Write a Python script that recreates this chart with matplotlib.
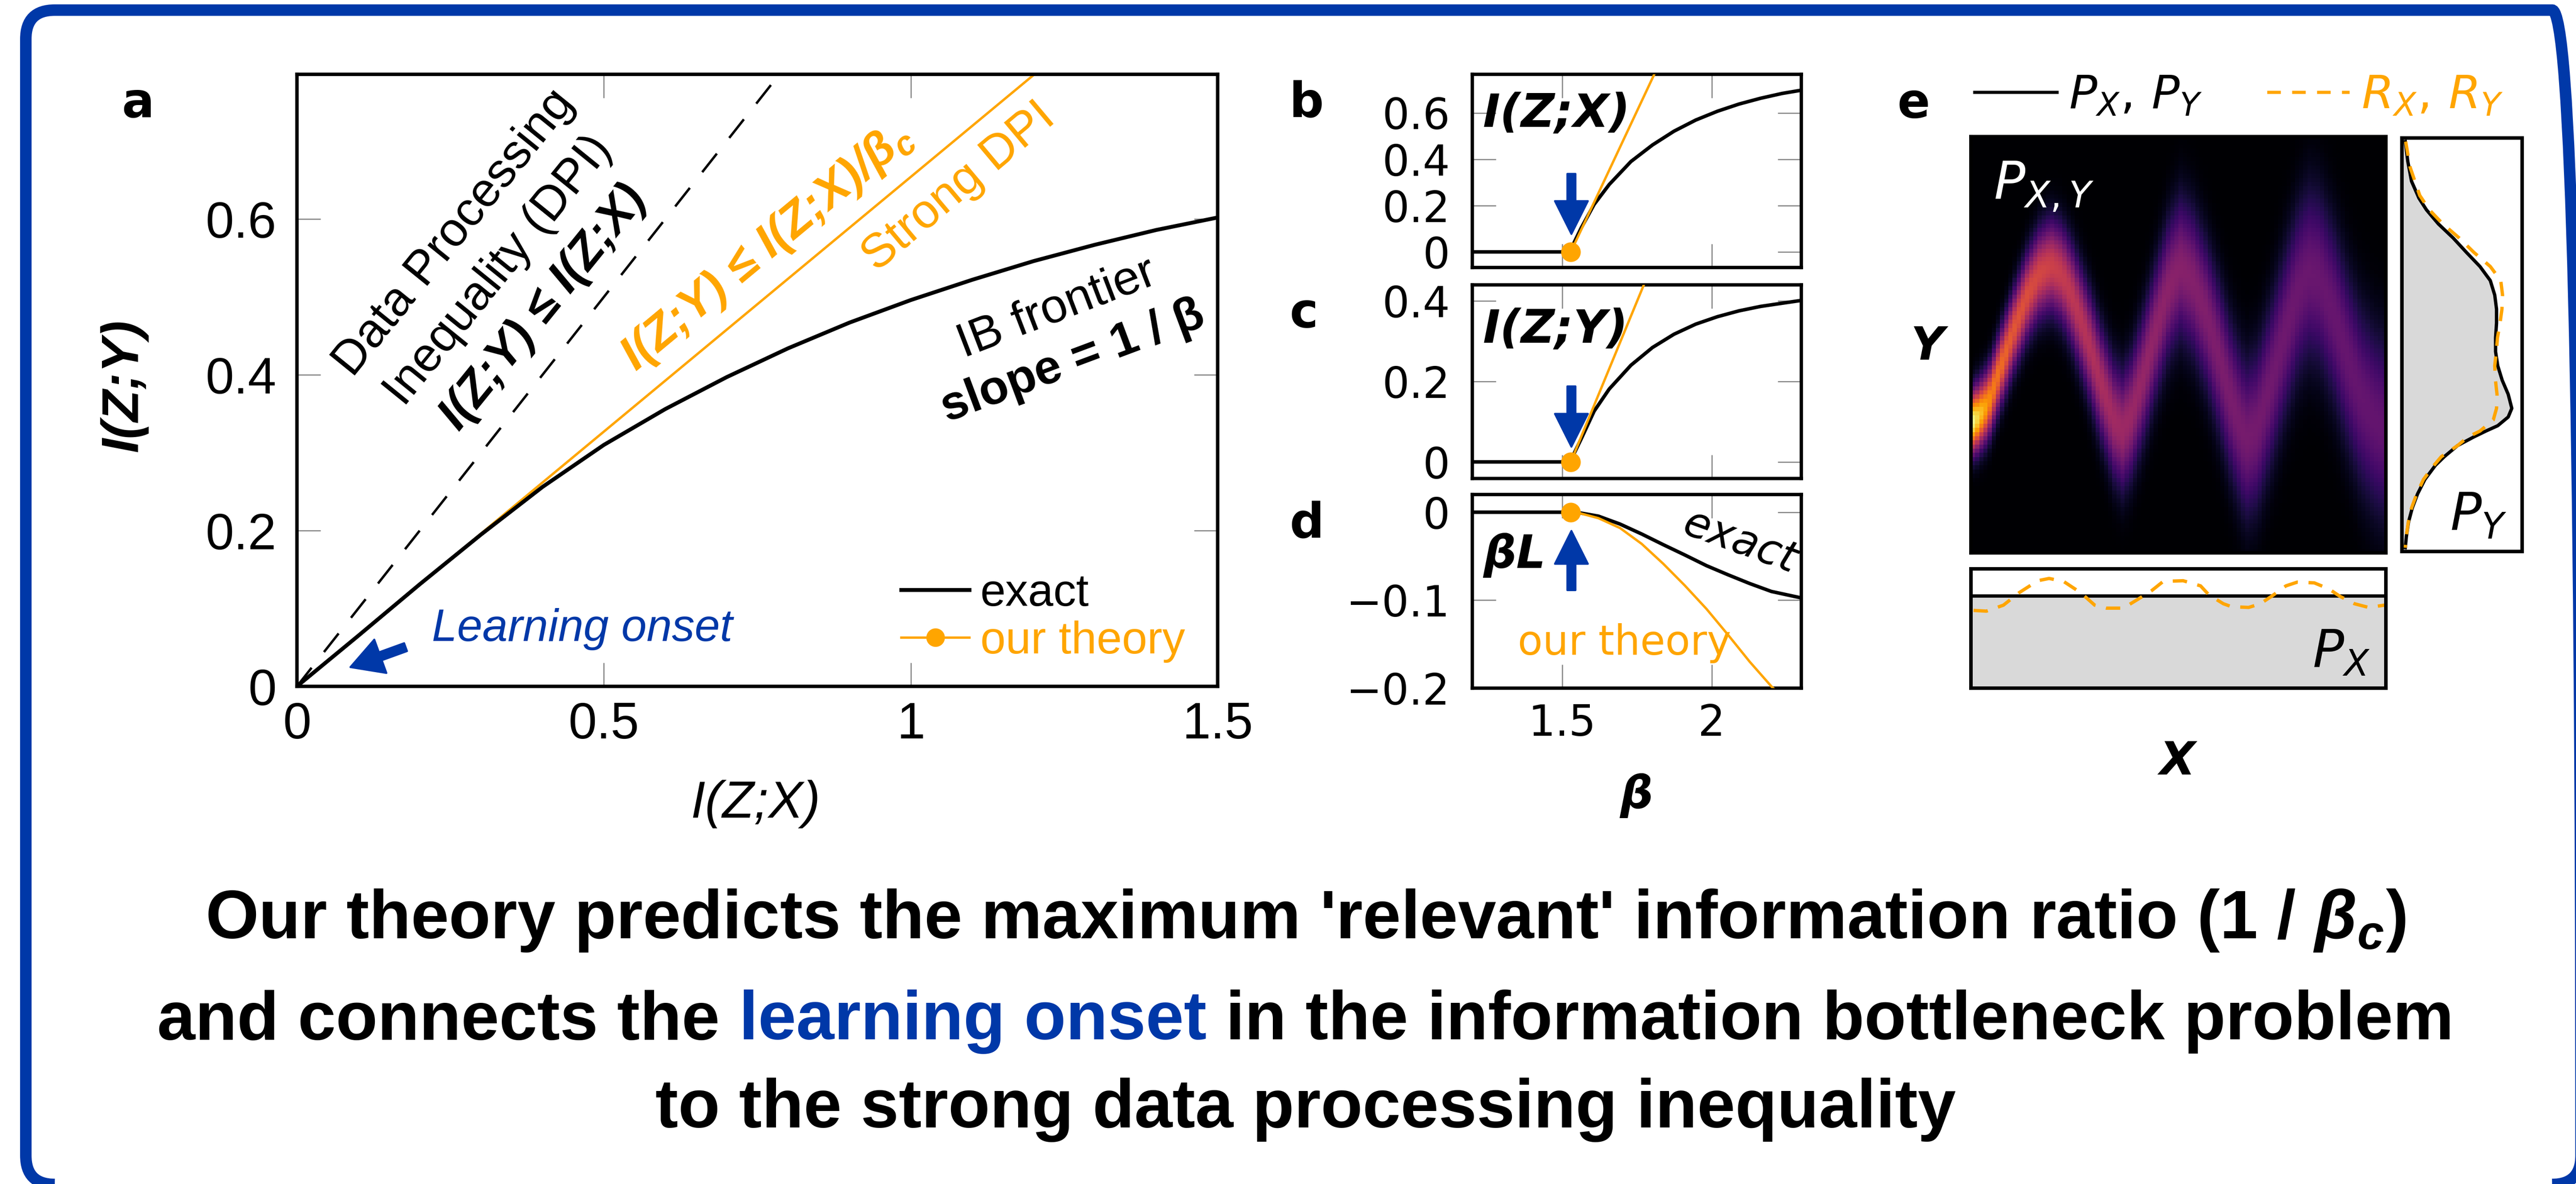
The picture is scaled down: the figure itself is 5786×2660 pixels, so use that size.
import numpy as np
import matplotlib
matplotlib.use('Agg')
import matplotlib.pyplot as plt
import matplotlib.transforms as mtransforms
from matplotlib.patches import FancyBboxPatch
from matplotlib.lines import Line2D

# ---------------- data ----------------
# panel a : information plane
dpi_x = [0.0, 0.79]
dpi_y = [0.0, 0.79]
sdpi_x = [0.0, 1.2]
sdpi_y = [0.0, 0.785]
ib_x = [0, 0.1, 0.2, 0.3, 0.4, 0.5, 0.6, 0.7, 0.8, 0.9, 1.0, 1.1, 1.2, 1.3, 1.4, 1.5]
ib_y = [0, 0.065, 0.131, 0.195, 0.256, 0.310, 0.356, 0.397, 0.434, 0.467, 0.496,
        0.522, 0.546, 0.567, 0.586, 0.602]
a_xticks = [0, 0.5, 1, 1.5]
a_xticklabels = ['0', '0.5', '1', '1.5']
a_yticks = [0, 0.2, 0.4, 0.6]
a_yticklabels = ['0', '0.2', '0.4', '0.6']
onset_x = [0.087]
onset_y = [0.0246]

# panels b-d : quantities vs beta
beta_c = 1.529
b_beta = [1.2, 1.529, 1.5347, 1.5636, 1.607, 1.6575, 1.730, 1.802, 1.874, 1.9465,
          2.019, 2.091, 2.163, 2.2355, 2.30]
b_exact = [0, 0, 0.026, 0.103, 0.205, 0.291, 0.390, 0.4615, 0.521, 0.569,
           0.607, 0.638, 0.663, 0.684, 0.698]
b_theory_beta = [1.529, 1.81]
b_theory = [0.0, 0.772]
c_beta = b_beta
c_exact = [0, 0, 0.0128, 0.057, 0.126, 0.181, 0.240, 0.284, 0.317, 0.342,
           0.3605, 0.375, 0.386, 0.394, 0.401]
c_theory_beta = [1.529, 1.775]
c_theory = [0.0, 0.443]
d_beta = [1.2, 1.529, 1.5564, 1.6214, 1.6936, 1.766, 1.838, 1.910, 1.9827, 2.055,
          2.127, 2.1994, 2.30]
d_exact = [0, 0, -0.0006, -0.0045, -0.0135, -0.0248, -0.0369, -0.0486, -0.0608,
           -0.0712, -0.0811, -0.0901, -0.0975]
d_theory_beta = [1.529, 1.5564, 1.6214, 1.6936, 1.766, 1.838, 1.910, 1.9827, 2.055,
                 2.127, 2.1994, 2.224]
d_theory = [0, -0.0009, -0.0068, -0.018, -0.036, -0.0586, -0.0833, -0.110, -0.1396,
            -0.170, -0.198, -0.206]
bcd_xticks = [1.5, 2]
bcd_xticklabels = ['1.5', '2']
b_yticks = [0, 0.2, 0.4, 0.6]
b_yticklabels = ['0', '0.2', '0.4', '0.6']
c_yticks = [0, 0.2, 0.4]
c_yticklabels = ['0', '0.2', '0.4']
d_yticks = [-0.2, -0.1, 0]
d_yticklabels = ['\u22120.2', '\u22120.1', '0']

# panel e : joint distribution (ridge line, width, peak height)
ridge_x = [0.009, 0.041, 0.073, 0.106, 0.138, 0.165, 0.192, 0.219, 0.246, 0.279,
           0.311, 0.344, 0.365, 0.387, 0.419, 0.451, 0.478, 0.505, 0.532, 0.565,
           0.597, 0.630, 0.662, 0.689, 0.721, 0.754, 0.786, 0.813, 0.840, 0.873,
           0.905, 0.937, 0.970, 0.997]
ridge_y = [0.316, 0.356, 0.449, 0.542, 0.623, 0.669, 0.690, 0.669, 0.611, 0.518,
           0.414, 0.321, 0.295, 0.333, 0.438, 0.553, 0.640, 0.684, 0.657, 0.577,
           0.472, 0.356, 0.272, 0.298, 0.402, 0.518, 0.623, 0.672, 0.657, 0.577,
           0.472, 0.379, 0.321, 0.298]
sig_x = [0.0, 0.2, 0.5, 0.8, 1.0]
sig_v = [0.05, 0.075, 0.112, 0.138, 0.148]
amp_x = [0.0, 0.02, 0.05, 0.1, 0.2, 0.35, 0.5, 0.65, 0.8, 1.0]
amp_v = [1.0, 0.88, 0.72, 0.62, 0.54, 0.43, 0.37, 0.33, 0.30, 0.28]

# marginal P_Y (black) and R_Y (orange): y position, density
py_y = [0.991, 0.943, 0.895, 0.854, 0.826, 0.792, 0.758, 0.723, 0.689, 0.655, 0.620,
        0.586, 0.552, 0.517, 0.483, 0.449, 0.414, 0.380, 0.346, 0.325, 0.304, 0.291,
        0.277, 0.256, 0.229, 0.208, 0.174, 0.139, 0.105, 0.071, 0.036, 0.009]
py_v = [0.027, 0.048, 0.079, 0.141, 0.203, 0.302, 0.425, 0.536, 0.648, 0.734, 0.771,
        0.786, 0.786, 0.778, 0.778, 0.796, 0.833, 0.883, 0.913, 0.883, 0.796, 0.697,
        0.598, 0.462, 0.351, 0.277, 0.190, 0.129, 0.085, 0.054, 0.036, 0.027]
ry_y = [0.991, 0.929, 0.861, 0.826, 0.792, 0.758, 0.723, 0.689, 0.655, 0.620, 0.586,
        0.552, 0.517, 0.483, 0.449, 0.414, 0.380, 0.346, 0.318, 0.291, 0.277, 0.256,
        0.229, 0.208, 0.174, 0.139, 0.105, 0.071, 0.036, 0.009]
ry_v = [0.030, 0.067, 0.147, 0.227, 0.339, 0.475, 0.598, 0.734, 0.821, 0.836, 0.831,
        0.815, 0.794, 0.784, 0.771, 0.777, 0.790, 0.786, 0.759, 0.648, 0.549, 0.462,
        0.326, 0.265, 0.178, 0.122, 0.079, 0.052, 0.035, 0.027]
# marginal P_X (black) and R_X (orange)
px_x = [0.0, 1.0]
px_v = [0.772, 0.772]
rx_x = [0.006, 0.037, 0.078, 0.116, 0.161, 0.188, 0.223, 0.264, 0.298, 0.326, 0.367,
        0.408, 0.436, 0.463, 0.511, 0.553, 0.573, 0.608, 0.628, 0.669, 0.697, 0.724,
        0.759, 0.786, 0.827, 0.862, 0.889, 0.924, 0.958, 0.996]
rx_v = [0.651, 0.645, 0.695, 0.800, 0.900, 0.919, 0.894, 0.800, 0.695, 0.670, 0.670,
        0.757, 0.819, 0.894, 0.900, 0.857, 0.782, 0.707, 0.682, 0.676, 0.707, 0.769,
        0.857, 0.888, 0.882, 0.832, 0.769, 0.707, 0.676, 0.695]

# ---------------- style ----------------
W, H = 5786, 2660
DPI = 300
ORANGE = '#FFA500'
BLUE = '#0038A8'
GRAY = '#808080'
FILLGRAY = '#d9d9d9'

plt.rcParams['font.family'] = ['Liberation Sans', 'DejaVu Sans']
plt.rcParams['mathtext.fontset'] = 'custom'
plt.rcParams['mathtext.rm'] = 'Liberation Sans:bold'
plt.rcParams['mathtext.it'] = 'Liberation Sans:italic:bold'
plt.rcParams['mathtext.bf'] = 'Liberation Sans:bold'

fig = plt.figure(figsize=((W + 0.3) / DPI, (H + 0.3) / DPI), dpi=DPI)
fig.patch.set_facecolor('white')


def rect(l, t, r, b):
    return [l / W, 1 - b / H, (r - l) / W, (b - t) / H]


def ftext(x, y, s, **kw):
    return fig.text(x / W, 1 - y / H, s, **kw)


# ---------------- border ----------------
tr = mtransforms.Affine2D().scale(1 / W, 1 / H) + fig.transFigure
border = FancyBboxPatch((58, -1), 5797 - 58, 2637 + 1,
                        boxstyle='round,pad=0,rounding_size=65',
                        transform=tr, fill=False, ec=BLUE, lw=6.2, zorder=10)
fig.add_artist(border)

# ---------------- panel a ----------------
axA = fig.add_axes(rect(667, 167, 2735, 1542))
axA.plot(dpi_x, dpi_y, color='k', lw=1.3, dashes=(9.8, 8.3))
axA.plot(sdpi_x, sdpi_y, color=ORANGE, lw=1.3)
axA.plot(ib_x, ib_y, color='k', lw=2.1)
axA.set_xlim(0, 1.5)
axA.set_ylim(0, 0.786)
axA.set_xticks(a_xticks)
axA.set_xticklabels(a_xticklabels)
axA.set_yticks(a_yticks)
axA.set_yticklabels(a_yticklabels)
axA.tick_params(direction='in', length=12.7, width=0.6, color=GRAY, top=True,
                right=True, labelsize=27.5)
axA.tick_params(axis='x', pad=8)
axA.tick_params(axis='y', pad=11)
for s in axA.spines.values():
    s.set_linewidth(1.85)

ftext(278, 866, 'I(Z;Y)', rotation=90, ha='center', va='center', fontsize=28,
      fontweight='bold', fontstyle='italic')
ftext(1697, 1806, 'I(Z;X)', ha='center', va='center', fontsize=28, fontstyle='italic')

txt_kw = dict(ha='center', va='center', rotation_mode='anchor', fontsize=26)
axA.text(0.2565, 0.582, 'Data Processing', rotation=51, **txt_kw)
axA.text(0.329, 0.534, 'Inequality (DPI)', rotation=51, **txt_kw)
axA.text(0.402, 0.486, 'I(Z;Y) \u2264 I(Z;X)', rotation=51, fontweight='bold',
         fontstyle='italic', **txt_kw)
axA.text(0.766, 0.565, 'I(Z;Y) \u2264 I(Z;X)/$\\beta_c$', rotation=39.7, color=ORANGE,
         fontweight='bold', fontstyle='italic', **txt_kw)
axA.text(1.078, 0.641, 'Strong DPI', rotation=40, color=ORANGE, **txt_kw)
axA.text(1.238, 0.485, 'IB frontier', rotation=21, **txt_kw)
axA.text(1.264, 0.4166, 'slope = 1 / \u03b2', rotation=20.5, fontweight='bold', **txt_kw)
axA.text(0.220, 0.0737, 'Learning onset', ha='left', va='center', fontsize=24.5,
         fontstyle='italic', color=BLUE)
axA.annotate('', xy=(onset_x[0], onset_y[0]), xytext=(0.177, 0.0503),
             arrowprops=dict(arrowstyle='simple,head_length=0.86,head_width=0.96,tail_width=0.23',
                             color=BLUE, shrinkA=0, shrinkB=0, mutation_scale=20))

hA1 = Line2D([], [], color='k', lw=2.1)
hA2 = Line2D([], [], color=ORANGE, lw=1.3, marker='o', ms=9)
legA = axA.legend([hA1, hA2], ['exact', 'our theory'], loc='center left',
                  bbox_to_anchor=((2024 - 667) / 2068, 1 - (1388 - 167) / 1375),
                  frameon=False, fontsize=24.5, handlelength=1.5, handletextpad=0.24,
                  labelspacing=0.12, borderpad=0, borderaxespad=0)
legA.get_texts()[1].set_color(ORANGE)

ftext(273, 263, 'a', ha='left', va='baseline', fontsize=26, fontweight='bold',
      family='DejaVu Sans')

# ---------------- panels b, c, d ----------------
panel_specs = [
    (rect(3307, 167, 4046, 601), b_beta, b_exact, b_theory_beta, b_theory,
     (-0.067, 0.767), b_yticks, b_yticklabels),
    (rect(3307, 640, 4046, 1075), c_beta, c_exact, c_theory_beta, c_theory,
     (-0.041, 0.4398), c_yticks, c_yticklabels),
    (rect(3307, 1111, 4046, 1546), d_beta, d_exact, d_theory_beta, d_theory,
     (-0.1995, 0.0202), d_yticks, d_yticklabels),
]
axes_bcd = []
for i, (r, xb, ye, xt, yt, ylim, yt_pos, yt_lab) in enumerate(panel_specs):
    ax = fig.add_axes(r)
    ax.plot(xb, ye, color='k', lw=1.9, zorder=3)
    ax.plot(xt, yt, color=ORANGE, lw=1.3, zorder=4)
    ax.plot([beta_c], [0], 'o', color=ORANGE, ms=9.6, zorder=5)
    ax.set_xlim(1.2, 2.3)
    ax.set_ylim(*ylim)
    ax.set_xticks(bcd_xticks)
    ax.set_yticks(yt_pos)
    ax.set_yticklabels(yt_lab)
    if i == 2:
        ax.set_xticklabels(bcd_xticklabels)
    else:
        ax.set_xticklabels([])
    ax.tick_params(direction='in', length=12.7, width=0.6, color=GRAY, top=True,
                   right=True, labelsize=23)
    ax.tick_params(axis='x', pad=8)
    ax.tick_params(axis='y', pad=12)
    for lab in ax.get_xticklabels() + ax.get_yticklabels():
        lab.set_family('DejaVu Sans')
    for s in ax.spines.values():
        s.set_linewidth(1.8)
    axes_bcd.append(ax)

axB, axC, axD = axes_bcd
arrow_kw = dict(arrowstyle='simple,head_length=0.89,head_width=0.89,tail_width=0.22',
                color=BLUE, shrinkA=0, shrinkB=0, mutation_scale=20)
axB.annotate('', xy=(1.531, 0.077), xytext=(1.531, 0.337), arrowprops=arrow_kw)
axC.annotate('', xy=(1.531, 0.0375), xytext=(1.531, 0.1877), arrowprops=arrow_kw)
axD.annotate('', xy=(1.531, -0.0212), xytext=(1.531, -0.0887), arrowprops=arrow_kw)

dj_bi = dict(family='DejaVu Sans', fontweight='bold', fontstyle='italic', fontsize=25)
ftext(3331, 256, 'I(Z;X)', ha='left', va='center', **dj_bi)
ftext(3331, 741, 'I(Z;Y)', ha='left', va='center', **dj_bi)
ftext(3331, 1247, '\u03b2L', ha='left', va='center', **dj_bi)
ftext(3908, 1218, 'exact', ha='center', va='center', rotation=-20, rotation_mode='anchor',
      family='DejaVu Sans', fontstyle='italic', fontsize=23)
ftext(3648, 1471, 'our theory', ha='center', va='baseline', family='DejaVu Sans',
      fontsize=22, color=ORANGE)
ftext(3675, 1787, '\u03b2', ha='center', va='center', **dj_bi)

lab_kw = dict(ha='left', va='baseline', fontsize=26, fontweight='bold', family='DejaVu Sans')
ftext(2896, 262, 'b', **lab_kw)
ftext(2896, 735, 'c', **lab_kw)
ftext(2896, 1207, 'd', **lab_kw)
ftext(4261, 264, 'e', **lab_kw)

# ---------------- panel e ----------------
nx, ny = 100, 100
xc = (np.arange(nx) + 0.5) / nx
yc = (np.arange(ny) + 0.5) / ny
ridge = np.interp(xc, ridge_x, ridge_y)
sig = np.interp(xc, sig_x, sig_v)
amp = np.interp(xc, amp_x, amp_v)
Z = amp[None, :] * np.exp(-0.5 * ((yc[:, None] - ridge[None, :]) / sig[None, :]) ** 2)

axH = fig.add_axes(rect(4427, 307, 5359, 1242))
axH.imshow(Z, origin='lower', extent=[0, 1, 0, 1], cmap='inferno', vmin=0, vmax=1,
           aspect='auto', interpolation='nearest')
axH.set_xticks([])
axH.set_yticks([])
for s in axH.spines.values():
    s.set_linewidth(1.9)
ftext(4478, 448, r'$P_{X,Y}$', ha='left', va='baseline', color='white', fontsize=28,
      math_fontfamily='dejavusans')

axY = fig.add_axes(rect(5395, 310, 5665, 1239))
axY.fill_betweenx(py_y, 0, py_v, color=FILLGRAY, lw=0)
axY.plot(py_v, py_y, color='k', lw=1.8)
axY.plot(ry_v, ry_y, color=ORANGE, lw=1.8, dashes=(4.3, 3.2))
axY.set_xlim(0, 1)
axY.set_ylim(0, 1)
axY.set_xticks([])
axY.set_yticks([])
for s in axY.spines.values():
    s.set_linewidth(1.9)
ftext(5503, 1192, r'$P_Y$', ha='left', va='baseline', fontsize=28,
      math_fontfamily='dejavusans')

axX = fig.add_axes(rect(4427, 1278, 5359, 1546))
axX.fill_between(px_x, 0, px_v, color=FILLGRAY, lw=0)
axX.plot(px_x, px_v, color='k', lw=1.8)
axX.plot(rx_x, rx_v, color=ORANGE, lw=1.8, dashes=(4.3, 3.2))
axX.set_xlim(0, 1)
axX.set_ylim(0, 1)
axX.set_xticks([])
axX.set_yticks([])
for s in axX.spines.values():
    s.set_linewidth(1.9)
ftext(5194, 1500, r'$P_X$', ha='left', va='baseline', fontsize=28,
      math_fontfamily='dejavusans')

ftext(4329, 779, 'Y', ha='center', va='center', **dj_bi)
ftext(4890, 1711, 'X', ha='center', va='center', **dj_bi)

hE1 = Line2D([], [], color='k', lw=1.7)
hE2 = Line2D([], [], color=ORANGE, lw=1.7, dashes=(4.3, 3.6))
legE = fig.legend([hE1, hE2], [r'$P_X,\,P_Y$', r'$R_X,\,R_Y$'], loc='center left',
                  bbox_to_anchor=(4435 / W, 1 - 217 / H), ncol=2, frameon=False,
                  fontsize=25, handlelength=1.77, handletextpad=0.26, columnspacing=1.4,
                  borderpad=0, borderaxespad=0)
for t in legE.get_texts():
    t.set_math_fontfamily('dejavusans')
legE.get_texts()[1].set_color(ORANGE)

# ---------------- bottom statement ----------------
TS = 36.9
CX = 2932
ftext(CX, 2108, "Our theory predicts the maximum 'relevant' information ratio (1 / $\\beta_c$)",
      ha='center', va='baseline', fontsize=TS, fontweight='bold')
ftext(CX, 2533, 'to the strong data processing inequality', ha='center', va='baseline',
      fontsize=TS, fontweight='bold')

renderer = fig.canvas.get_renderer()
parts = [('and connects the', 'k'), ('learning onset', BLUE),
         ('in the information bottleneck problem', 'k')]
pieces = [ftext(0, 2335, p, ha='left', va='baseline', fontsize=TS, fontweight='bold', color=c)
          for p, c in parts]
tmp1 = ftext(0, 0, 'a a', fontsize=TS, fontweight='bold')
tmp2 = ftext(0, 0, 'aa', fontsize=TS, fontweight='bold')
space = tmp1.get_window_extent(renderer).width - tmp2.get_window_extent(renderer).width
tmp1.remove()
tmp2.remove()
widths = [p.get_window_extent(renderer).width for p in pieces]
total = sum(widths) + 2 * space
x = CX - total / 2
for p, w in zip(pieces, widths):
    p.set_x(x / W)
    x += w + space

fig.savefig('out.png', dpi=DPI)
